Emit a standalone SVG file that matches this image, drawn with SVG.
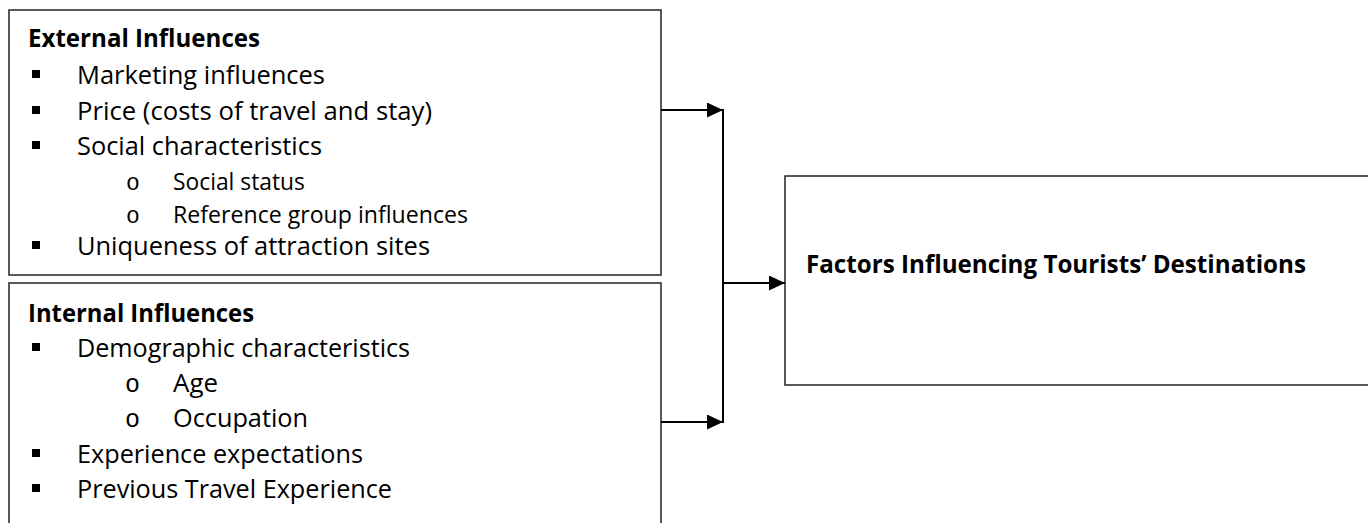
<svg xmlns="http://www.w3.org/2000/svg" width="1368" height="523" viewBox="0 0 1368 523">
<style>
.box{fill:#fff;stroke:#222;stroke-width:1.5}
.t{font-family:"Open Sans","Liberation Sans",sans-serif;font-size:25.5px;fill:#000}
.s{font-family:"Open Sans","Liberation Sans",sans-serif;font-size:23px;fill:#000}
.b{font-family:"Open Sans","Liberation Sans",sans-serif;font-size:25.5px;font-weight:bold;fill:#000}
.o{font-family:"Liberation Mono","DejaVu Sans Mono",monospace;font-size:25px;fill:#000}
.os{font-family:"Liberation Mono","DejaVu Sans Mono",monospace;font-size:23px;fill:#000}
.sq{fill:#000}
.c{stroke:#000;stroke-width:2;fill:none}
</style>
<defs>
<marker id="ah" viewBox="0 0 16 15" refX="16" refY="7.5" markerWidth="16" markerHeight="15" markerUnits="userSpaceOnUse" orient="auto">
<path d="M0,0 L16,7.5 L0,15 Z" fill="#000"/>
</marker>
</defs>
<g id="external">
<rect class="box" x="9" y="10" width="652" height="265"/>
<text class="b" x="28" y="47" textLength="232" lengthAdjust="spacingAndGlyphs">External Influences</text>
<rect class="sq" x="32" y="70" width="8" height="8"/>
<text class="t" x="77" y="84" textLength="248" lengthAdjust="spacingAndGlyphs">Marketing influences</text>
<rect class="sq" x="32" y="106" width="8" height="8"/>
<text class="t" x="77" y="120" textLength="355" lengthAdjust="spacingAndGlyphs">Price (costs of travel and stay)</text>
<rect class="sq" x="32" y="141" width="8" height="8"/>
<text class="t" x="77" y="155" textLength="245" lengthAdjust="spacingAndGlyphs">Social characteristics</text>
<text class="os" x="126" y="190">o</text>
<text class="s" x="173" y="190" textLength="132" lengthAdjust="spacingAndGlyphs">Social status</text>
<text class="os" x="126" y="223">o</text>
<text class="s" x="173" y="223" textLength="295" lengthAdjust="spacingAndGlyphs">Reference group influences</text>
<rect class="sq" x="32" y="241" width="8" height="8"/>
<text class="t" x="77" y="255" textLength="353" lengthAdjust="spacingAndGlyphs">Uniqueness of attraction sites</text>
</g>
<g id="internal">
<rect class="box" x="9" y="283" width="652" height="260"/>
<text class="b" x="28" y="322" textLength="226" lengthAdjust="spacingAndGlyphs">Internal Influences</text>
<rect class="sq" x="32" y="343" width="8" height="8"/>
<text class="t" x="77" y="357" textLength="333" lengthAdjust="spacingAndGlyphs">Demographic characteristics</text>
<text class="o" x="125" y="392">o</text>
<text class="t" x="173" y="392" textLength="45" lengthAdjust="spacingAndGlyphs">Age</text>
<text class="o" x="125" y="427">o</text>
<text class="t" x="173" y="427" textLength="135" lengthAdjust="spacingAndGlyphs">Occupation</text>
<rect class="sq" x="32" y="449" width="8" height="8"/>
<text class="t" x="77" y="463" textLength="286" lengthAdjust="spacingAndGlyphs">Experience expectations</text>
<rect class="sq" x="32" y="484" width="8" height="8"/>
<text class="t" x="77" y="498" textLength="315" lengthAdjust="spacingAndGlyphs">Previous Travel Experience</text>
</g>
<g id="factors">
<rect class="box" x="785" y="176" width="600" height="209"/>
<text class="b" x="806" y="273" textLength="500" lengthAdjust="spacingAndGlyphs">Factors Influencing Tourists’ Destinations</text>
</g>
<g id="connectors">
<line class="c" x1="661" y1="110" x2="723" y2="110" marker-end="url(#ah)"/>
<line class="c" x1="661" y1="422" x2="723" y2="422" marker-end="url(#ah)"/>
<line class="c" x1="723" y1="109" x2="723" y2="423"/>
<line class="c" x1="723" y1="283" x2="785" y2="283" marker-end="url(#ah)"/>
</g>
</svg>
